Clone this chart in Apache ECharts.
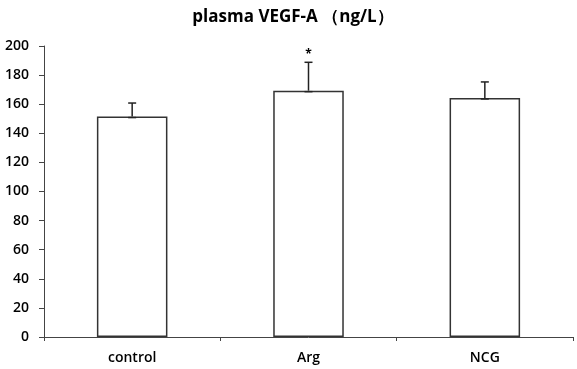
<!DOCTYPE html>
<html>
<head>
<meta charset="utf-8">
<script src="https://cdn.jsdelivr.net/npm/echarts@6/dist/echarts.min.js"></script>
<style>html,body{margin:0;padding:0;background:#fff;}#c{width:577px;height:369px;}</style>
</head>
<body>
<div id="c"></div>
<script>
var categories = ['control', 'Arg', 'NCG'];
var means = [151.5, 169.3, 164.3];
var errors = [9.3, 19.5, 11.0];
var significance = ['', '*', ''];
var yTicks = [0, 20, 40, 60, 80, 100, 120, 140, 160, 180, 200];

var chart = echarts.init(document.getElementById('c'), null, {renderer: 'canvas'});
var font = '"Open Sans", Lato, sans-serif';
var errData = categories.map(function (c, i) { return [i, means[i], means[i] + errors[i], significance[i]]; });

chart.setOption({
  animation: false,
  backgroundColor: '#fff',
  title: {
    text: 'plasma VEGF-A （ng/L）',
    left: 288, top: 4, textAlign: 'center',
    textStyle: {fontFamily: font, fontSize: 17, fontWeight: 'bold', color: '#000'}
  },
  grid: {left: 44, right: 4, top: 46, bottom: 32},
  xAxis: {
    type: 'category', data: categories,
    axisLine: {lineStyle: {color: '#444', width: 1}},
    axisTick: {show: true, length: 4, lineStyle: {color: '#444'}},
    axisLabel: {fontFamily: font, fontSize: 14, fontWeight: 600, color: '#000', margin: 14}
  },
  yAxis: {
    type: 'value', min: yTicks[0], max: yTicks[yTicks.length - 1], interval: 20,
    axisLine: {show: true, lineStyle: {color: '#444', width: 1}},
    axisTick: {show: true, length: 5, lineStyle: {color: '#444'}},
    splitLine: {show: false},
    axisLabel: {fontFamily: font, fontSize: 14, fontWeight: 600, color: '#000', margin: 15}
  },
  series: [
    {
      type: 'bar', data: means, barWidth: '40%',
      itemStyle: {color: '#fff', borderColor: '#333', borderWidth: 1.5}
    },
    {
      type: 'custom', data: errData, z: 5,
      renderItem: function (params, api) {
        var x = api.value(0);
        var lo = api.coord([x, api.value(1)]);
        var hi = api.coord([x, api.value(2)]);
        var cap = 4;
        var children = [
          {type: 'line', shape: {x1: lo[0], y1: lo[1], x2: hi[0], y2: hi[1]}, style: {stroke: '#222', lineWidth: 1.5}},
          {type: 'line', shape: {x1: hi[0] - cap, y1: hi[1], x2: hi[0] + cap, y2: hi[1]}, style: {stroke: '#222', lineWidth: 1.5}},
          {type: 'line', shape: {x1: lo[0] - cap, y1: lo[1] + 1, x2: lo[0] + cap, y2: lo[1] + 1}, style: {stroke: '#222', lineWidth: 1.5}}
        ];
        var s = api.value(3);
        if (s) {
          children.push({type: 'text', style: {text: s, x: hi[0], y: hi[1] - 2, align: 'center', verticalAlign: 'bottom', font: 'bold 12px ' + font, fill: '#000'}});
        }
        return {type: 'group', children: children};
      }
    }
  ]
});
</script>
</body>
</html>
